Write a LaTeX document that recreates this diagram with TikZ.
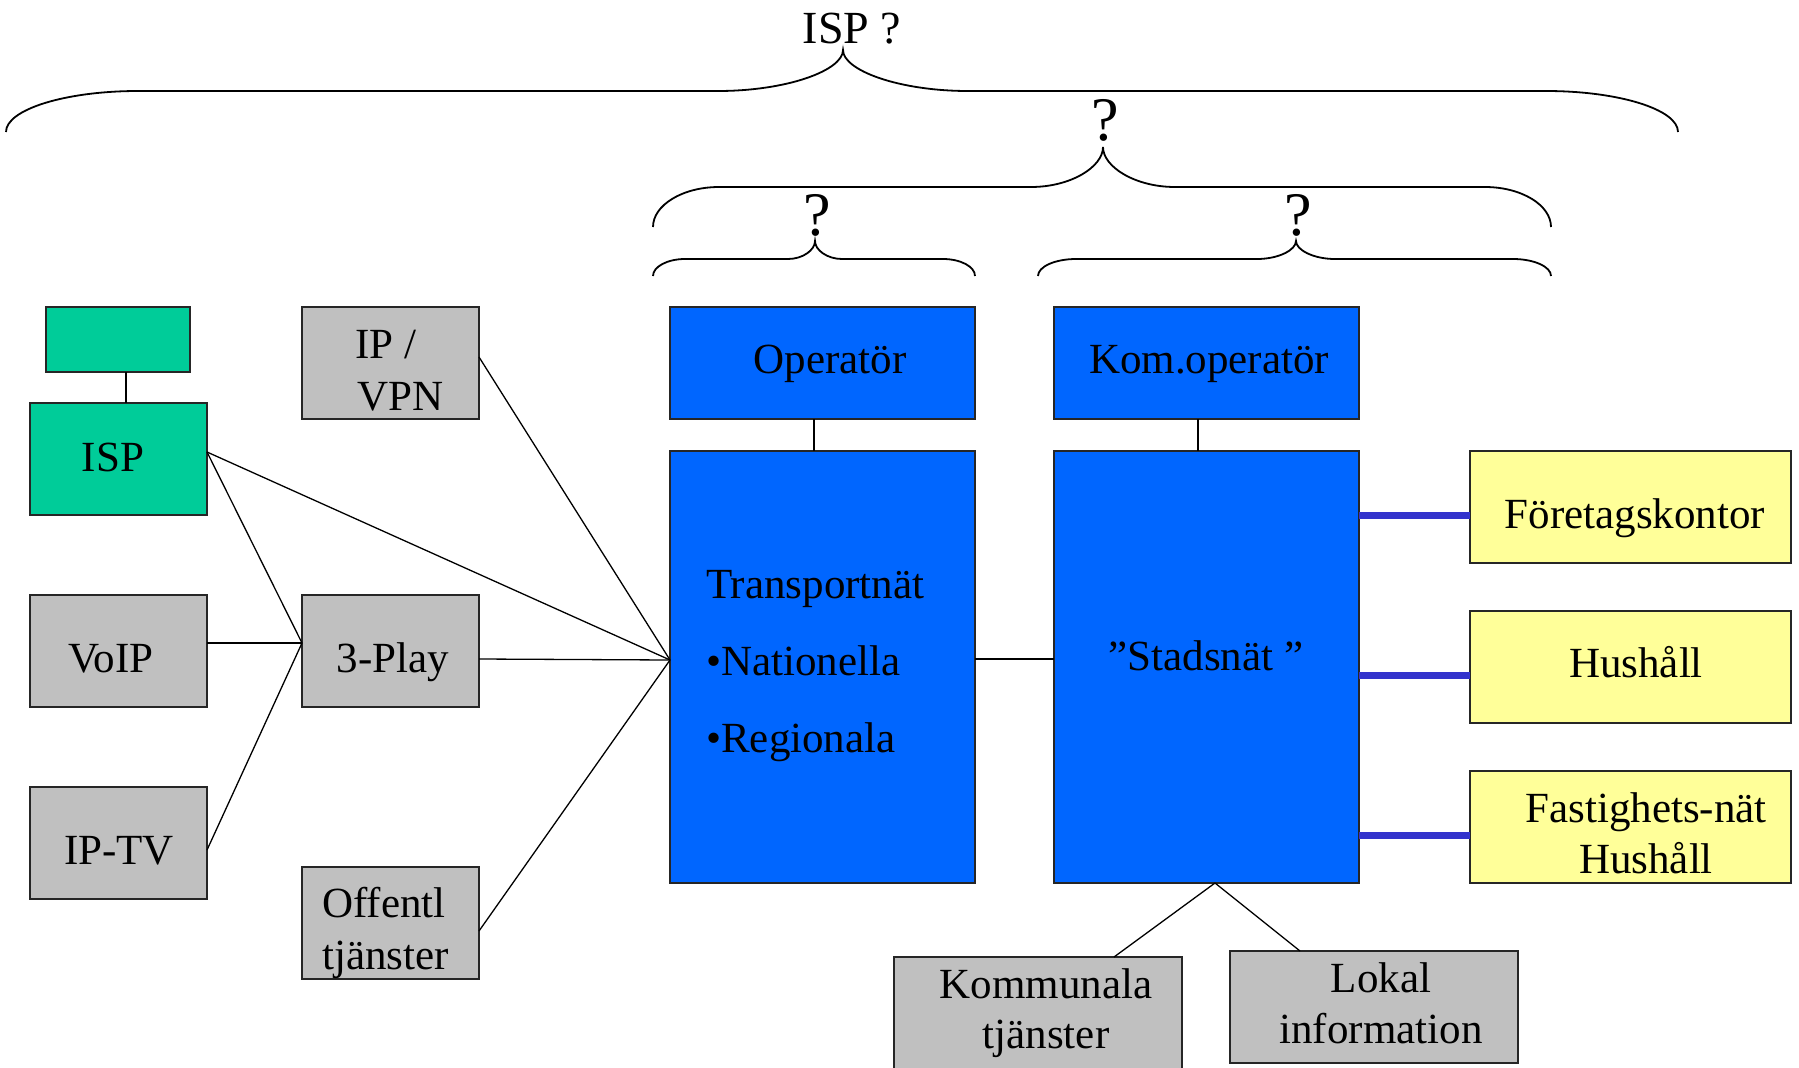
\documentclass[tikz,border=0pt]{standalone}
\usepackage{fontspec}
\setmainfont{Liberation Serif}
\usetikzlibrary{calc}
\definecolor{ispgreen}{HTML}{00CC99}
\definecolor{boxgrey}{HTML}{C0C0C0}
\definecolor{netblue}{HTML}{0066FF}
\definecolor{custyellow}{HTML}{FFFF99}
\definecolor{linkblue}{HTML}{3333CC}
% #1 left x, #2 right x, #3 tip x, #4 end y, #5 flat y, #6 tip y, #7 end-curve width, #8 tip-curve width
\newcommand{\mybrace}[8]{%
  \draw[bracestyle] (#1,#4) .. controls (#1,{#4-0.55*(#4-#5)}) and ({#1+0.45*#7},#5) .. ({#1+#7},#5)
    -- ({#3-#8},#5) .. controls ({#3-0.45*#8},#5) and (#3,{#5-0.5*(#5-#6)}) .. (#3,#6)
    .. controls (#3,{#5-0.5*(#5-#6)}) and ({#3+0.45*#8},#5) .. ({#3+#8},#5)
    -- ({#2-#7},#5) .. controls ({#2-0.45*#7},#5) and (#2,{#4-0.55*(#4-#5)}) .. (#2,#4);}
\begin{document}
\begin{tikzpicture}[x=1pt,y=-1pt,
  box/.style={draw=black!85, line width=1.5pt, inner sep=0pt, outer sep=0pt},
  greenbox/.style={box, fill=ispgreen},
  greybox/.style={box, fill=boxgrey},
  bluebox/.style={box, fill=netblue},
  yellowbox/.style={box, fill=custyellow},
  txt/.style={inner sep=0pt, font=\fontsize{43}{51}\selectfont},
  conn/.style={line width=1.3pt, black},
  bline/.style={line width=7pt, linkblue},
  bracestyle/.style={line width=1.8pt, black}]
\useasboundingbox (0,0) rectangle (1799,1068);
\clip (0,0) rectangle (1799,1068);

% braces and labels
\mybrace{6}{1678}{843}{132}{91}{50}{132}{125}
\mybrace{653}{1551}{1103}{227}{187}{147}{66}{72}
\mybrace{653}{975}{815}{276}{259}{241}{32}{27}
\mybrace{1038}{1551}{1296}{276}{259}{241}{38}{39}
\node[inner sep=0pt, font=\fontsize{46}{50}\selectfont, anchor=base] (qtop) at (852,43) {ISP ?};
\node[inner sep=0pt, font=\fontsize{62}{66}\selectfont, anchor=base] (qmid) at (1105,140) {?};
\node[inner sep=0pt, font=\fontsize{62}{66}\selectfont, anchor=base] (qleft) at (817,235) {?};
\node[inner sep=0pt, font=\fontsize{62}{66}\selectfont, anchor=base] (qright) at (1298,235) {?};

% boxes
\node[greenbox, minimum width=144pt, minimum height=65pt] (ispsup) at (118,339.5) {};
\node[greenbox, minimum width=177pt, minimum height=112pt] (isp) at (118.5,459) {};
\node[greybox, minimum width=177pt, minimum height=112pt] (voip) at (118.5,651) {};
\node[greybox, minimum width=177pt, minimum height=112pt] (iptv) at (118.5,843) {};
\node[greybox, minimum width=177pt, minimum height=112pt] (ipvpn) at (390.5,363) {};
\node[greybox, minimum width=177pt, minimum height=112pt] (play) at (390.5,651) {};
\node[greybox, minimum width=177pt, minimum height=112pt] (offentl) at (390.5,923) {};
\node[bluebox, minimum width=305pt, minimum height=112pt] (oper) at (822.5,363) {};
\node[bluebox, minimum width=305pt, minimum height=432pt] (transp) at (822.5,667) {};
\node[bluebox, minimum width=305pt, minimum height=112pt] (komop) at (1206.5,363) {};
\node[bluebox, minimum width=305pt, minimum height=432pt] (stad) at (1206.5,667) {};
\node[yellowbox, minimum width=321pt, minimum height=112pt] (f1) at (1630.5,507) {};
\node[yellowbox, minimum width=321pt, minimum height=112pt] (f2) at (1630.5,667) {};
\node[yellowbox, minimum width=321pt, minimum height=112pt] (f3) at (1630.5,827) {};
\node[greybox, minimum width=288pt, minimum height=125pt] (kom) at (1038,1019.5) {};
\node[greybox, minimum width=288pt, minimum height=112pt] (lokal) at (1374,1007) {};

% texts
\node[txt, anchor=base] (tisp) at (113,471) {ISP};
\node[txt, anchor=base west] (tip1) at (355,358) {IP /};
\node[txt, anchor=base west] (tip2) at (357,410) {VPN};
\node[txt, anchor=base] (tvoip) at (111,672) {VoIP};
\node[txt, anchor=base] (tplay) at (393,672) {3-Play};
\node[txt, anchor=base] (tiptv) at (119,864) {IP-TV};
\node[txt, anchor=base west] (toff1) at (322,917) {Offentl};
\node[txt, anchor=base west] (toff2) at (322,969) {tjänster};
\node[txt, anchor=base] (toper) at (830,373) {Operatör};
\node[txt, anchor=base] (tkomop) at (1209,373) {Kom.operatör};
\node[txt, anchor=base west] (ttr1) at (706,598) {Transportnät};
\node[txt, anchor=base west] (ttr2) at (706,675) {•Nationella};
\node[txt, anchor=base west] (ttr3) at (706,752) {•Regionala};
\node[txt, anchor=base] (tstad) at (1206,670) {”Stadsnät ”};
\node[txt, anchor=base] (tf1) at (1635,528) {Företagskontor};
\node[txt, anchor=base] (tf2) at (1636,677) {Hushåll};
\node[txt, anchor=base] (tf3a) at (1646,822) {Fastighets-nät};
\node[txt, anchor=base] (tf3b) at (1646,873) {Hushåll};
\node[txt, anchor=base] (tk1) at (1046,998) {Kommunala};
\node[txt, anchor=base] (tk2) at (1046,1048) {tjänster};
\node[txt, anchor=base] (tl1) at (1381,992) {Lokal};
\node[txt, anchor=base] (tl2) at (1381,1043) {information};

% connectors
\draw[conn] ([xshift=8pt]ispsup.south) -- ([xshift=7.5pt]isp.north);
\draw[conn] ([yshift=7pt]isp.east) -- ([yshift=8pt]play.west);
\draw[conn] ([yshift=7pt]isp.east) -- ([yshift=7pt]transp.west);
\draw[conn] ([yshift=8pt]voip.east) -- ([yshift=8pt]play.west);
\draw[conn] ([yshift=-7pt]iptv.east) -- ([yshift=8pt]play.west);
\draw[conn] ([yshift=6pt]ipvpn.east) -- ([yshift=7pt]transp.west);
\draw[conn] ([yshift=-8pt]play.east) -- ([yshift=7pt]transp.west);
\draw[conn] ([yshift=-8pt]offentl.east) -- ([yshift=7pt]transp.west);
\draw[conn] ([xshift=-8.5pt]oper.south) -- ([xshift=-8.5pt]transp.north);
\draw[conn] ([xshift=-8.5pt]komop.south) -- ([xshift=-8.5pt]stad.north);
\draw[conn] ([yshift=8pt]transp.east) -- ([yshift=8pt]stad.west);
\draw[conn] ([xshift=8.5pt]stad.south) -- ([xshift=76pt]kom.north);
\draw[conn] ([xshift=8.5pt]stad.south) -- ([xshift=-74pt]lokal.north);
\coordinate (l1) at ([yshift=-8pt]f1.west);
\coordinate (l2) at ([yshift=-8pt]f2.west);
\coordinate (l3) at ([yshift=-8pt]f3.west);
\draw[bline] (l1 -| stad.east) -- (l1);
\draw[bline] (l2 -| stad.east) -- (l2);
\draw[bline] (l3 -| stad.east) -- (l3);
\end{tikzpicture}
\end{document}
